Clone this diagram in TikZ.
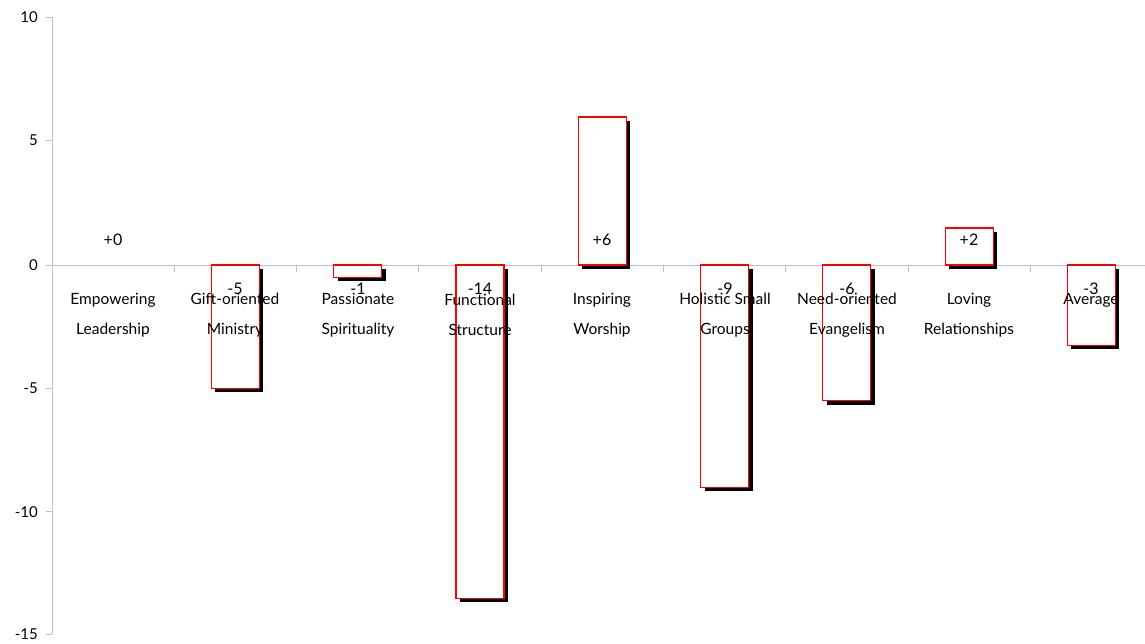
\documentclass[tikz,border=0pt]{standalone}
\usepackage{fontspec}
\setmainfont{Lato}
\definecolor{axisgray}{HTML}{C0C0C0}
\definecolor{barred}{RGB}{255,0,0}
\tikzset{
  axisline/.style={draw=axisgray, line width=1pt},
  barbox/.style={draw=barred, fill=white, line width=1.2pt},
  barshadow/.style={fill=black, draw=none},
  ylab/.style={anchor=east, font=\fontsize{15}{15}\selectfont, inner sep=0pt},
  vlab/.style={anchor=center, font=\fontsize{16}{16}\selectfont, inner sep=0pt},
  clab/.style={anchor=center, align=center, font=\fontsize{15.5}{30}\selectfont, inner sep=0pt},
}
\newcommand{\chartbar}[2]{%
  \fill[barshadow] (#1-20,269) rectangle (#1+28,#2+4);
  \draw[barbox] (#1-24,265) rectangle (#1+24,#2);
}
\begin{document}
\begin{tikzpicture}[x=1pt,y=-1pt]
\useasboundingbox (0,0) rectangle (1145,643);
% axes
\coordinate (ytop) at (52,17);
\coordinate (ybot) at (52,634);
\coordinate (xl) at (52,265);
\coordinate (xr) at (1153,265);
\draw[axisline] (ytop) -- (ybot);
\draw[axisline] (xl) -- (xr);
\foreach \yy/\t in {17/10,140.6/5,265/0,388.4/-5,511.8/-10,634/-15}{
  \draw[axisline] (46,\yy) -- (52,\yy);
  \node[ylab] (yl\t) at (38,\yy) {\t};
}
\foreach \xx in {174.3,296.6,418.9,541.2,663.5,785.8,908.1,1030.4}{
  \draw[axisline] (\xx,265) -- (\xx,272);
}
% bars
\chartbar{235.35}{388.4}
\chartbar{357.65}{277.3}
\chartbar{479.95}{598.2}
\chartbar{602.25}{116.9}
\chartbar{724.55}{487.1}
\chartbar{846.85}{400.7}
\chartbar{969.15}{228.0}
\chartbar{1091.45}{345.2}
% value labels
\node[vlab] (v0) at (113,240) {+0};
\node[vlab] (v1) at (235,289) {-5};
\node[vlab] (v2) at (358,289) {-1};
\node[vlab] (v3) at (480,289) {-14};
\node[vlab] (v4) at (602,240) {+6};
\node[vlab] (v5) at (725,289) {-9};
\node[vlab] (v6) at (847,289) {-6};
\node[vlab] (v7) at (969,240) {+2};
\node[vlab] (v8) at (1091,289) {-3};
% category labels
\node[clab] (c0) at (113,315) {Empowering\\Leadership};
\node[clab] (c1) at (235,315) {Gift-oriented\\Ministry};
\node[clab] (c2) at (358,315) {Passionate\\Spirituality};
\node[clab] (c3) at (480,315) {Functional\\Structure};
\node[clab] (c4) at (602,315) {Inspiring\\Worship};
\node[clab] (c5) at (725,315) {Holistic Small\\Groups};
\node[clab] (c6) at (847,315) {Need-oriented\\Evangelism};
\node[clab] (c7) at (969,315) {Loving\\Relationships};
\node[clab] (c8) at (1091,300) {Average};
\end{tikzpicture}
\end{document}
